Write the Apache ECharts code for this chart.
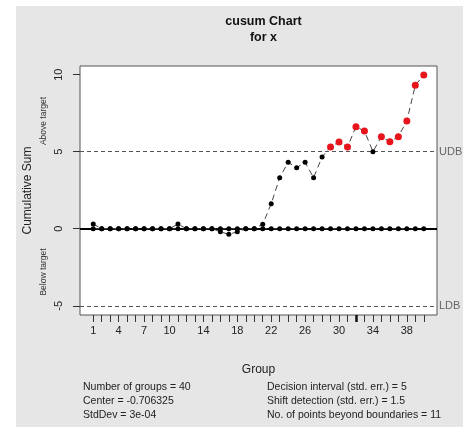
<!DOCTYPE html>
<html>
<head>
<meta charset="utf-8">
<script src="https://cdn.jsdelivr.net/npm/echarts@6/dist/echarts.min.js"></script>
<style>
html,body{margin:0;padding:0;background:#fff;}
#c{width:463px;height:427px;}
</style>
</head>
<body>
<div id="c"></div>
<script>
const groups = [1,2,3,4,5,6,7,8,9,10,11,12,13,14,15,16,17,18,19,20,21,22,23,24,25,26,27,28,29,30,31,32,33,34,35,36,37,38,39,40];
const upperCusum = [0.3,0,0,0,0,0,0,0,0,0,0.3,0,0,0,0,0,0,0,0,0,0.29,1.62,3.31,4.31,3.96,4.31,3.31,4.66,5.31,5.63,5.31,6.62,6.34,5.0,5.97,5.65,5.97,6.99,9.31,9.98];
const lowerCusum = [0,0,0,0,0,0,0,0,0,0,0,0,0,0,0,-0.2,-0.36,-0.2,0,0,0,0,0,0,0,0,0,0,0,0,0,0,0,0,0,0,0,0,0,0];
const xTickLabels = [1,4,7,10,14,18,22,26,30,34,38];
const yTickLabels = [-5,0,5,10];
const highlightedTick = [32];
const decisionInterval = 5;
const statsLeft = ['Number of groups = 40','Center = -0.706325','StdDev = 3e-04'];
const statsRight = ['Decision interval (std. err.) = 5','Shift detection (std. err.) = 1.5','No. of points beyond boundaries = 11'];

const FONT = '"Liberation Sans", Arial, sans-serif';
function pts(vals){
  return vals.map((v,i)=>{
    const out = Math.abs(v) > decisionInterval;
    return {
      value:[groups[i], v],
      symbolSize: out ? 7 : 5,
      itemStyle:{color: out ? '#e8141c' : '#000'}
    };
  });
}
const chart = echarts.init(document.getElementById('c'), null, {renderer:'canvas'});
const gL=80, gT=66, gW=357, gH=249;
const texts = [];
statsLeft.forEach((t,i)=>texts.push({type:'text',left:83,top:382+i*14,style:{text:t,font:'10.5px '+FONT,fill:'#222'}}));
statsRight.forEach((t,i)=>texts.push({type:'text',left:267,top:382+i*14,style:{text:t,font:'10.5px '+FONT,fill:'#222'}}));
const xBase = {type:'value', min:-0.56, max:41.56, position:'bottom', axisLine:{show:false,onZero:false}, splitLine:{show:false}};
const yBase = {type:'value', min:-5.6, max:10.56, position:'left', axisLine:{show:false,onZero:false}, splitLine:{show:false}};
chart.setOption({
  animation:false,
  backgroundColor:'#e6e6e6',
  title:{
    text:'cusum Chart\nfor x', left:258.5, top:9, textAlign:'center',
    textStyle:{fontFamily:FONT,fontSize:12.5,fontWeight:'bold',color:'#111',lineHeight:16}
  },
  graphic:[
    {type:'rect',shape:{x:0,y:0,width:463,height:6},style:{fill:'#fff'}},
    {type:'rect',shape:{x:0,y:0,width:16,height:427},style:{fill:'#fff'}},
    {type:'text',x:44,y:121,rotation:Math.PI/2,style:{text:'Above target',font:'8.5px '+FONT,fill:'#333',align:'center',verticalAlign:'middle'}},
    {type:'text',x:44,y:272,rotation:Math.PI/2,style:{text:'Below target',font:'8.5px '+FONT,fill:'#333',align:'center',verticalAlign:'middle'}}
  ].concat(texts),
  grid:{left:gL,top:gT,width:gW,height:gH,show:true,backgroundColor:'#fff',borderColor:'#555',borderWidth:1},
  xAxis:[
    Object.assign({}, xBase, {
      name:'Group', nameLocation:'middle', nameGap:49,
      nameTextStyle:{fontFamily:FONT,fontSize:12,color:'#222'},
      axisTick:{show:false},
      axisLabel:{customValues:xTickLabels,margin:10,fontFamily:FONT,fontSize:11,color:'#222'}
    }),
    Object.assign({}, xBase, {
      axisTick:{show:true,inside:false,length:7,customValues:groups,lineStyle:{color:'#333',width:1}},
      axisLabel:{show:false}
    }),
    Object.assign({}, xBase, {
      axisTick:{show:true,length:7,customValues:highlightedTick,lineStyle:{color:'#111',width:2.5}},
      axisLabel:{show:false}
    })
  ],
  yAxis:[
    Object.assign({}, yBase, {
      name:'Cumulative Sum', nameLocation:'middle', nameGap:46, nameRotate:90,
      nameTextStyle:{fontFamily:FONT,fontSize:12,color:'#222'},
      axisTick:{show:false},
      axisLabel:{customValues:yTickLabels,rotate:90,margin:16,fontFamily:FONT,fontSize:11,color:'#222'}
    }),
    Object.assign({}, yBase, {
      axisTick:{show:true,inside:false,length:7,customValues:yTickLabels,lineStyle:{color:'#333',width:1}},
      axisLabel:{show:false}
    })
  ],
  series:[
    {type:'line', data:pts(upperCusum), symbol:'circle', z:5,
     lineStyle:{color:'#444',width:1,type:[6,4]},
     markLine:{symbol:'none',silent:true,animation:false,
       data:[
         {yAxis:0,lineStyle:{color:'#000',width:2,type:'solid'},label:{show:false}},
         {yAxis:decisionInterval,lineStyle:{color:'#555',width:1,type:[4,3]},
          label:{show:true,position:'end',formatter:'UDB',distance:2,fontFamily:FONT,fontSize:11,color:'#666'}},
         {yAxis:-decisionInterval,lineStyle:{color:'#555',width:1,type:[4,3]},
          label:{show:true,position:'end',formatter:'LDB',distance:2,fontFamily:FONT,fontSize:11,color:'#666'}}
       ]}},
    {type:'line', data:pts(lowerCusum), symbol:'circle', z:5,
     lineStyle:{color:'#444',width:1,type:[6,4]}}
  ]
});
</script>
</body>
</html>
